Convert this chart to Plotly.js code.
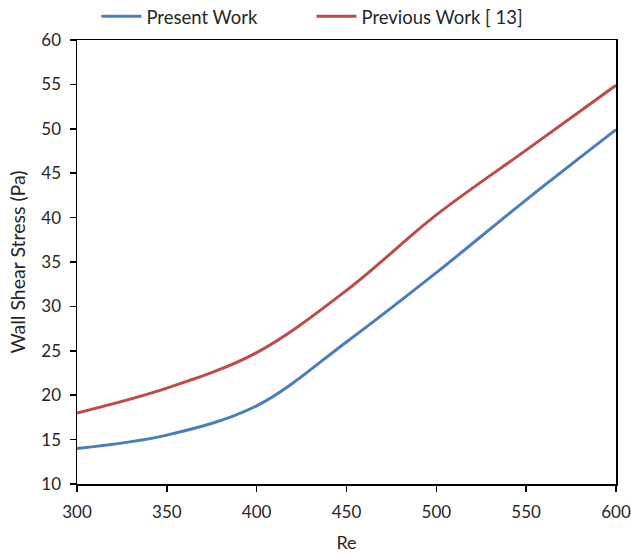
<!DOCTYPE html>
<html>
<head>
<meta charset="utf-8">
<script src="https://cdn.plot.ly/plotly-3.0.1.min.js"></script>
<style>
  html, body { margin: 0; padding: 0; background: #fff; }
  #chart { width: 631px; height: 554px; }
</style>
</head>
<body>
<div id="chart"></div>
<script>
// Reynolds number
const re = [300, 350, 400, 450, 500, 550, 600];
// Wall shear stress (Pa)
const presentWork = [14.0, 15.5, 18.8, 26.0, 33.8, 42.0, 49.9];
const previousWork = [18.0, 20.8, 24.8, 31.8, 40.3, 47.6, 54.9];
const seriesNames = ['Present Work', 'Previous Work [ 13]'];

const font = 'Lato, "Open Sans", sans-serif';

const traces = [
  {
    x: re, y: presentWork, name: seriesNames[0], legend: 'legend',
    type: 'scatter', mode: 'lines',
    line: { color: '#4a7ebb', width: 3, shape: 'spline', smoothing: 1 }
  },
  {
    x: re, y: previousWork, name: seriesNames[1], legend: 'legend2',
    type: 'scatter', mode: 'lines',
    line: { color: '#be4b48', width: 3, shape: 'spline', smoothing: 1 }
  }
];

// one legend box per series so each entry sits at its own spot
const legendBase = {
  orientation: 'h', xanchor: 'left', y: 1.095, yanchor: 'top',
  font: { family: font, size: 18.5, color: '#262626' },
  itemwidth: 40, bgcolor: 'rgba(0,0,0,0)'
};

const layout = {
  width: 631, height: 554,
  margin: { l: 77, r: 15, t: 40, b: 70, autoexpand: false },
  paper_bgcolor: '#fff', plot_bgcolor: '#fff',
  font: { family: font, size: 17, color: '#262626' },
  showlegend: true,
  legend: Object.assign({}, legendBase, { x: 0.036 }),
  legend2: Object.assign({}, legendBase, { x: 0.435 }),
  xaxis: {
    range: [300, 600], tickvals: [300, 350, 400, 450, 500, 550, 600],
    showgrid: false, zeroline: false,
    showline: true, linecolor: '#000', linewidth: 1.5, mirror: true,
    ticks: 'outside', ticklen: 6, tickcolor: '#000', tickwidth: 1.5,
    ticklabelstandoff: 6,
    title: { text: 'Re', font: { family: font, size: 18, color: '#262626' }, standoff: 15 }
  },
  yaxis: {
    range: [10, 60], tickvals: [10, 15, 20, 25, 30, 35, 40, 45, 50, 55, 60],
    showgrid: false, zeroline: false,
    showline: true, linecolor: '#000', linewidth: 1.5, mirror: true,
    ticks: 'outside', ticklen: 6, tickcolor: '#000', tickwidth: 1.5,
    ticklabelstandoff: 5,
    title: { text: 'Wall Shear Stress (Pa)', font: { family: font, size: 19.5, color: '#262626' }, standoff: 10 }
  }
};

Plotly.newPlot('chart', traces, layout, { displayModeBar: false, staticPlot: true });
</script>
</body>
</html>
